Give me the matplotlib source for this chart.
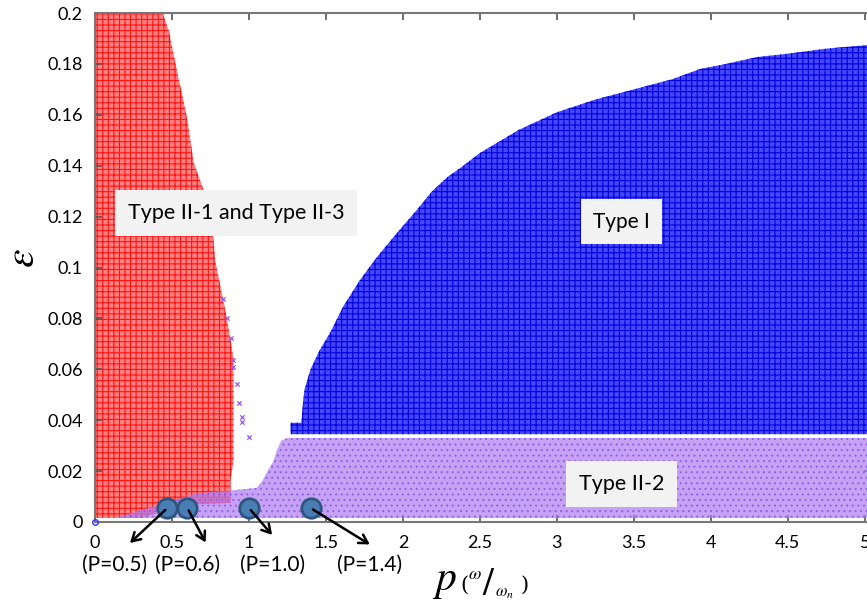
import matplotlib
matplotlib.use("Agg")
import matplotlib.pyplot as plt

plt.rcParams['font.family'] = ['Lato', 'DejaVu Sans']
plt.rcParams['mathtext.fontset'] = 'stix'
plt.rcParams['hatch.linewidth'] = 0.8

# Type II-1 / Type II-3 zone: right edge (p) for each epsilon, top to bottom
red_eps = [0.200, 0.193, 0.184, 0.175, 0.167, 0.158, 0.150, 0.1415, 0.133,
           0.1226, 0.111, 0.103, 0.091, 0.079, 0.064, 0.024, 0.0165, 0.0110]
red_p = [0.44, 0.48, 0.51, 0.54, 0.57, 0.60, 0.62, 0.64, 0.69,
         0.75, 0.77, 0.78, 0.82, 0.86, 0.90, 0.90, 0.88, 0.88]
# lower edge of the red zone where it meets the overlap wedge
red_low_p = [0.88, 0.65, 0.45, 0.30, 0.0]
red_low_eps = [0.0075, 0.0070, 0.0045, 0.0016, 0.0016]

# Type II-2 zone: left edge from top down, then to the right border
purple_p = [1.25, 1.21, 1.18, 1.16, 1.12, 1.09, 1.05, 0.88, 0.67, 0.13, 5.04, 5.04]
purple_eps = [0.033, 0.032, 0.028, 0.024, 0.020, 0.0165, 0.0134, 0.0124, 0.0114,
              0.0016, 0.0016, 0.033]

# Type I zone: upper boundary vs p, floor at blue_floor
blue_p = [1.27, 1.34, 1.35, 1.36, 1.40, 1.46, 1.53, 1.61, 1.72, 1.83, 1.96, 2.09,
          2.19, 2.29, 2.37, 2.50, 2.75, 3.00, 3.25, 3.50, 3.75, 3.93, 4.10, 4.30,
          4.50, 4.75, 5.04]
blue_top = [0.039, 0.039, 0.046, 0.052, 0.060, 0.0676, 0.0747, 0.0845, 0.095, 0.104,
            0.1135, 0.1226, 0.130, 0.1356, 0.139, 0.145, 0.154, 0.161, 0.166, 0.170,
            0.174, 0.178, 0.180, 0.1827, 0.184, 0.186, 0.1875]
blue_floor = 0.0345

# isolated Type II-2 points along the red edge
stray_p = [0.83, 0.857, 0.883, 0.896, 0.896, 0.922, 0.935, 0.955, 0.955, 1.0]
stray_eps = [0.0876, 0.0802, 0.0723, 0.0637, 0.0609, 0.0542, 0.0468, 0.0413, 0.0393, 0.0334]

# marked cases
marked_p = [0.5, 0.6, 1.0, 1.4]
marked_eps = [0.0055, 0.0055, 0.0055, 0.0055]

x_ticks = [0, 0.5, 1, 1.5, 2, 2.5, 3, 3.5, 4, 4.5, 5]
x_labels = ['0', '0.5', '1', '1.5', '2', '2.5', '3', '3.5', '4', '4.5', '5']
y_ticks = [0, 0.02, 0.04, 0.06, 0.08, 0.1, 0.12, 0.14, 0.16, 0.18, 0.2]
y_labels = ['0', '0.02', '0.04', '0.06', '0.08', '0.1', '0.12', '0.14', '0.16', '0.18', '0.2']

fig = plt.figure(figsize=(8.67, 6.01), dpi=100)
ax = fig.add_axes([95 / 867, 1 - 522 / 601, 776 / 867, 509 / 601])

# red zone
rx = [0.0] + red_p + red_low_p + [0.0]
ry = [0.2] + red_eps + red_low_eps + [0.2]
ax.fill(rx, ry, facecolor='#ff8080', edgecolor='#ff1414', hatch='+++', lw=0, zorder=1)

# purple zone drawn over the red to give the overlap wedge
ax.fill(purple_p, purple_eps, facecolor='#b07ef2', edgecolor='#8a4ee6', hatch='...',
        lw=0, alpha=0.72, zorder=2)

# blue zone
ax.fill_between(blue_p, blue_floor, blue_top, facecolor='#4646ff', edgecolor='#0000d8',
                hatch='+++', lw=0, zorder=2)

ax.scatter(stray_p, stray_eps, marker='x', s=10, color='#9a5ae8', lw=0.9, zorder=3)
ax.plot([0], [0], 'o', ms=4, mfc='none', mec='#3030ff', clip_on=False, zorder=4)

# marked cases with arrows to their captions
arrow_end = [(0.214, -0.0090), (0.727, -0.0090), (1.162, -0.0059), (1.80, -0.0094)]
label_x = [0.13, 0.60, 1.156, 1.78]
for p, e, end, lx in zip(marked_p, marked_eps, arrow_end, label_x):
    cx = p - 0.03 if p == 0.5 else p
    ax.plot(cx, e, 'o', ms=14, mfc='#4a7db3', mec='#2d557f', mew=2, zorder=5)
    ax.annotate('', xy=end, xytext=(cx, e),
                arrowprops=dict(arrowstyle='->,head_length=0.6,head_width=0.35',
                                lw=1.8, color='black'),
                annotation_clip=False, zorder=6)
    ax.text(lx, -0.0169, f'(P={p:.1f})', ha='center', va='center', fontsize=15,
            clip_on=False)

box = dict(boxstyle='square,pad=0.6', facecolor='#f2f2f2', edgecolor='none')
ax.text(0.916, 0.1214, 'Type II-1 and Type II-3', ha='center', va='center',
        fontsize=15.5, bbox=box, zorder=7)
ax.text(3.42, 0.118, 'Type I', ha='center', va='center', fontsize=15, bbox=box, zorder=7)
ax.text(3.42, 0.0149, 'Type II-2', ha='center', va='center', fontsize=15.5, bbox=box,
        zorder=7)

ax.set_xlim(0, 5.04)
ax.set_ylim(0, 0.2)
ax.set_xticks(x_ticks)
ax.set_xticklabels(x_labels)
ax.set_yticks(y_ticks)
ax.set_yticklabels(y_labels)
ax.tick_params(direction='in', length=5, width=1.2, top=True, right=True,
               labelsize=13, pad=9, color='#555555')
for s in ax.spines.values():
    s.set_color('#777777')
    s.set_linewidth(1.5)

# axis titles
fig.text(22 / 867, 1 - 258 / 601, r'$\varepsilon$', rotation=90, fontsize=30,
         ha='center', va='center')
fig.text(444 / 867, 1 - 582 / 601, r'$p$', fontsize=30, ha='center', va='center')
fig.text(464 / 867, 1 - 585 / 601, '(', fontsize=15, ha='center', va='center',
         family='DejaVu Serif')
fig.text(475 / 867, 1 - 574 / 601, r'$\omega$', fontsize=13, ha='center', va='center')
fig.text(489 / 867, 1 - 584 / 601, r'$/$', fontsize=28, ha='center', va='center')
fig.text(504 / 867, 1 - 593 / 601, r'$\omega_n$', fontsize=12, ha='center', va='center')
fig.text(525 / 867, 1 - 585 / 601, ')', fontsize=15, ha='center', va='center',
         family='DejaVu Serif')

fig.savefig('out.png', dpi=100)
